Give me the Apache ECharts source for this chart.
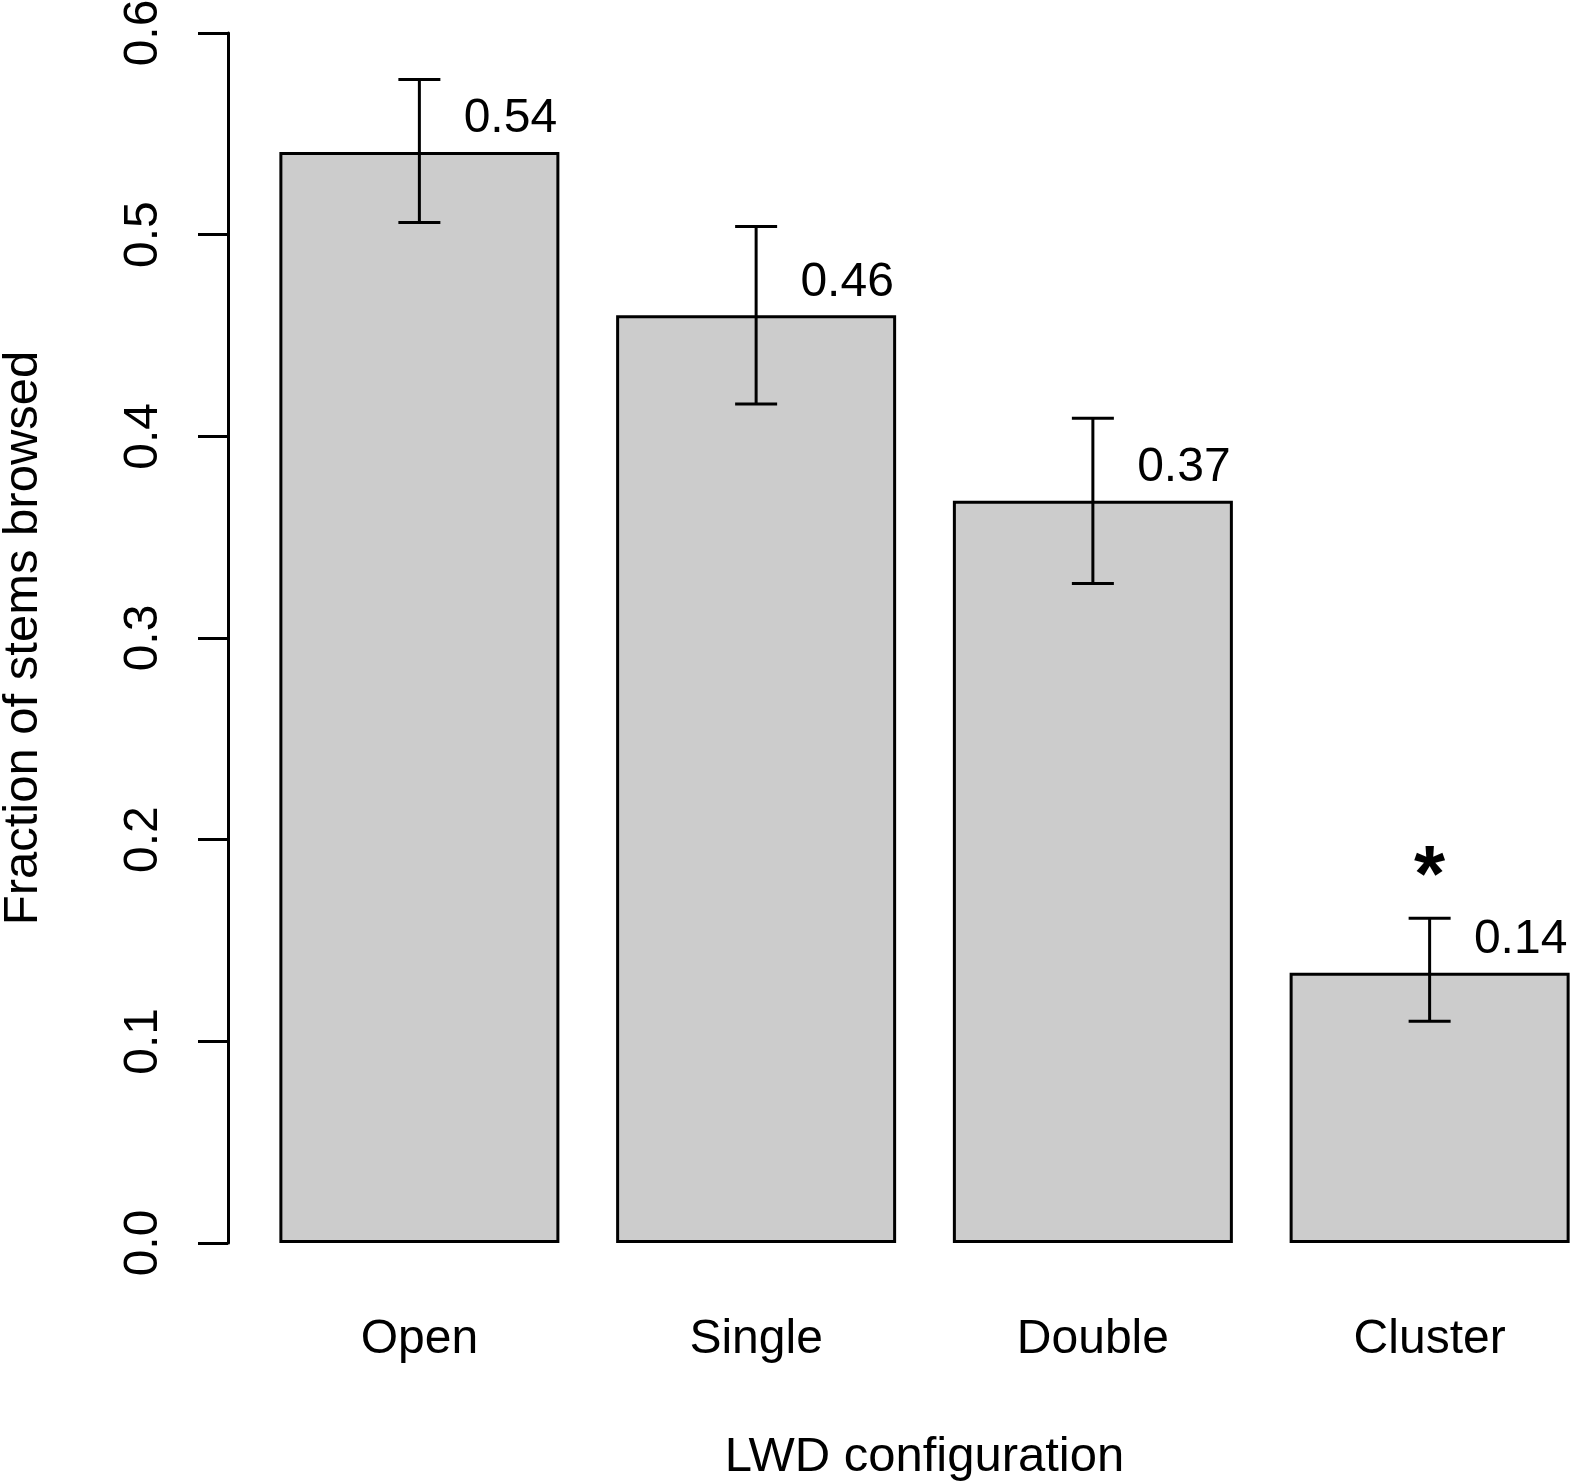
<!DOCTYPE html>
<html lang="en">
<head>
    <meta charset="UTF-8">
    <title>Fraction of stems browsed</title>
    <script src="https://cdn.jsdelivr.net/npm/echarts@6/dist/echarts.min.js"></script>
    <style>
        html, body { margin: 0; padding: 0; background: #fff; }
    </style>
</head>
<body>
<div id="main" style="width: 1575px;height:1482px;"></div>

<script type="text/javascript">
    // values
    var categories = ['Open', 'Single', 'Double', 'Cluster'];
    var fraction = [0.541, 0.460, 0.368, 0.134];   // bar heights
    var errLow = [0.506, 0.416, 0.327, 0.110];     // lower whisker
    var errHigh = [0.577, 0.504, 0.409, 0.161];    // upper whisker
    var valueLabels = ['0.54', '0.46', '0.37', '0.14'];
    var marks = ['', '', '', '*'];                  // significance

    var font = 'Liberation Sans, Arial, Helvetica, sans-serif';

    var myChart = echarts.init(document.getElementById('main'));

    var errData = [];
    for (var i = 0; i < categories.length; i++) {
        errData.push([i, errLow[i], errHigh[i]]);
    }

    // whiskers + the asterisk
    function renderErr(params, api) {
        var lo = api.coord([api.value(0), api.value(1)]);
        var hi = api.coord([api.value(0), api.value(2)]);
        var cap = 21;
        var st = {stroke: '#000', lineWidth: 3};
        var kids = [
            {type: 'line', shape: {x1: lo[0], y1: lo[1], x2: hi[0], y2: hi[1]}, style: st},
            {type: 'line', shape: {x1: lo[0] - cap, y1: lo[1], x2: lo[0] + cap, y2: lo[1]}, style: st},
            {type: 'line', shape: {x1: hi[0] - cap, y1: hi[1], x2: hi[0] + cap, y2: hi[1]}, style: st}
        ];
        var m = marks[params.dataIndex];
        if (m) {
            kids.push({
                type: 'text', x: hi[0], y: hi[1] - 39,
                style: {
                    text: m, fill: '#000', fontSize: 80, fontWeight: 'bold',
                    fontFamily: font, align: 'center', verticalAlign: 'middle'
                }
            });
        }
        return {type: 'group', children: kids};
    }

    var option = {
        animation: false,
        backgroundColor: '#fff',
        grid: {left: 251, top: 33, width: 1347, bottom: 239, outerBoundsMode: 'none'},
        xAxis: {
            type: 'category',
            data: categories,
            axisLine: {show: false},
            axisTick: {show: false},
            axisLabel: {margin: 73, fontSize: 48, color: '#000', fontFamily: font},
            name: 'LWD configuration',
            nameLocation: 'middle',
            nameGap: 190,
            nameTextStyle: {fontSize: 49, color: '#000', fontFamily: font}
        },
        yAxis: {
            type: 'value',
            min: 0,
            max: 0.6,
            interval: 0.1,
            offset: 23,
            splitLine: {show: false},
            axisLine: {show: true, lineStyle: {color: '#000', width: 3}},
            axisTick: {show: true, length: 30, lineStyle: {color: '#000', width: 3}},
            axisLabel: {
                rotate: 90, margin: 60, fontSize: 48, color: '#000', fontFamily: font,
                formatter: function (v) { return v.toFixed(1); }
            },
            name: 'Fraction of stems browsed',
            nameLocation: 'middle',
            nameRotate: 90,
            nameGap: 180,
            nameTextStyle: {fontSize: 49, color: '#000', fontFamily: font}
        },
        series: [{
            name: 'fraction',
            type: 'bar',
            data: fraction,
            barWidth: 280,
            itemStyle: {color: '#cccccc', borderColor: '#000', borderWidth: 3},
            label: {
                show: true,
                position: 'top',
                distance: 0,
                offset: [91, -9],
                fontSize: 48,
                color: '#000',
                fontFamily: font,
                formatter: function (p) { return valueLabels[p.dataIndex]; }
            }
        }, {
            name: 'se',
            type: 'custom',
            data: errData,
            renderItem: renderErr,
            z: 5
        }]
    };
    myChart.setOption(option);
</script>
</body>
</html>
